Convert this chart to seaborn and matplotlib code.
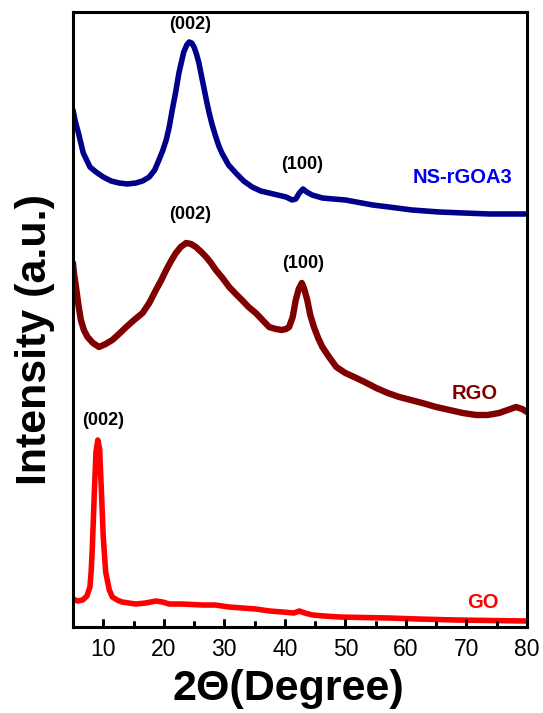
import numpy as np
import pandas as pd
import seaborn as sns
import matplotlib
matplotlib.use("Agg")
import matplotlib.pyplot as plt
from matplotlib.ticker import FixedLocator

# ---- data (intensity in arbitrary units) ----
ns_x = [5.0, 5.4, 5.9, 6.7, 7.8, 8.8, 10.0, 11.3, 12.6, 14.0, 15.4, 16.5, 17.6, 18.5,
        19.2, 19.8, 20.4, 20.9, 21.4, 22.0, 22.5, 23.3, 23.8, 24.2, 24.6, 25.0, 25.4,
        25.8, 26.2, 26.7, 27.1, 27.5, 28.0, 28.6, 29.1, 29.6, 30.7, 31.9, 33.2, 34.6,
        36.0, 37.4, 38.8, 40.2, 41.2, 41.8, 42.4, 43.0, 43.6, 44.5, 46.2, 48.0, 50.0,
        51.8, 54.5, 57.2, 61.0, 65.5, 69.5, 73.8, 77.0, 80.0]
ns_y = [517, 505, 494, 474, 460, 455, 450, 446, 444, 443, 444, 446, 450, 457,
        467, 476, 487, 500, 517, 536, 554, 575, 582, 585, 584, 580, 573,
        564, 552, 537, 525, 514, 502, 490, 481, 474, 462, 454, 446, 440,
        436, 434, 432, 430, 427, 428, 434, 438, 435, 432, 429, 428, 427,
        425, 422, 420, 417, 415, 414, 413, 413, 413]

rgo_x = [5.0, 5.2, 5.5, 5.9, 6.3, 6.8, 7.4, 8.3, 9.3, 10.4, 11.5, 12.6, 13.8, 15.1,
         16.5, 17.6, 18.7, 19.6, 20.4, 21.2, 22.0, 22.8, 23.7, 24.5, 25.3, 26.2,
         27.0, 27.8, 28.6, 29.7, 30.8, 31.9, 32.9, 34.0, 35.2, 36.3, 37.4, 38.5,
         39.5, 40.2, 40.7, 41.3, 41.8, 42.3, 42.8, 43.2, 43.7, 44.2, 44.8, 45.5,
         46.2, 47.3, 48.5, 50.0, 51.8, 53.5, 55.1, 57.0, 58.9, 60.8, 62.7, 65.0,
         67.2, 69.4, 71.6, 73.5, 75.4, 76.8, 78.2, 79.2, 80.0]
rgo_y = [364, 352, 340, 322, 307, 297, 290, 284, 280, 283, 287, 293, 300, 307,
         314, 324, 337, 347, 357, 366, 374, 380, 384, 383, 380, 375,
         370, 364, 357, 349, 340, 333, 327, 320, 314, 307, 300, 298,
         297, 298, 300, 310, 327, 338, 344, 338, 327, 312, 300, 289,
         280, 270, 260, 254, 249, 244, 239, 234, 230, 227, 224, 220,
         217, 214, 212, 212, 214, 217, 220, 218, 215]

go_x = [5.0, 5.8, 6.6, 7.3, 7.8, 8.0, 8.2, 8.5, 8.8, 9.1, 9.4, 9.7, 10.0, 10.4, 11.0,
        11.5, 12.3, 13.1, 14.2, 15.4, 17.0, 18.7, 19.8, 20.9, 23.0, 26.4, 28.5, 30.8,
        33.0, 35.2, 37.5, 39.6, 41.5, 42.4, 43.3, 44.6, 46.5, 49.0, 53.0, 57.3, 62.0,
        68.3, 74.0, 80.0]
go_y = [28, 26, 27, 31, 40, 55, 80, 130, 175, 187, 178, 135, 90, 55, 37,
        30, 27, 25, 24, 23, 24, 26, 25, 23, 23, 22, 22, 20,
        19, 18, 16, 15, 14, 16, 14, 12, 11, 10, 9.5, 9, 8,
        7, 6.5, 6]

x_ticks = [10, 20, 30, 40, 50, 60, 70, 80]
x_minor = [15, 25, 35, 45, 55, 65, 75]

# ---- style ----
sns.set_style("ticks")
plt.rcParams.update({
    'font.family': ['Liberation Sans', 'DejaVu Sans'],
    'text.color': 'black',
    'axes.labelcolor': 'black',
    'axes.edgecolor': 'black',
    'axes.linewidth': 2.2,
    'xtick.color': 'black',
    'xtick.labelcolor': 'black',
    'xtick.direction': 'in',
    'xtick.bottom': True,
    'xtick.top': False,
    'xtick.major.size': 6,
    'xtick.major.width': 2,
    'xtick.minor.size': 4,
    'xtick.minor.width': 2,
    'xtick.labelsize': 16.5,
    'xtick.major.pad': 8,
})

fig = plt.figure(figsize=(5.43, 7.13), dpi=100)
ax = fig.add_axes([0.1344, 0.1206, 0.8361, 0.8626])

navy = "#00008B"
maroon = "#800000"
red = "#FF0000"

sns.lineplot(x=ns_x, y=ns_y, ax=ax, color=navy, linewidth=4.0, estimator=None)
sns.lineplot(x=rgo_x, y=rgo_y, ax=ax, color=maroon, linewidth=4.6, estimator=None)
sns.lineplot(x=go_x, y=go_y, ax=ax, color=red, linewidth=4.0, estimator=None)

ax.set_xlim(5, 80)
ax.set_ylim(0, 615)
ax.xaxis.set_major_locator(FixedLocator(x_ticks))
ax.xaxis.set_minor_locator(FixedLocator(x_minor))
ax.set_yticks([])

# inward tick marks drawn along the bottom spine (axes-fraction heights)
xt = ax.get_xaxis_transform()
ax.vlines(x_ticks, 0, 0.0135, transform=xt, colors='black', linewidth=2,
          zorder=6, clip_on=False)
ax.vlines(x_minor, 0, 0.009, transform=xt, colors='black', linewidth=2,
          zorder=6, clip_on=False)

ax.set_xlabel("2Θ(Degree)", fontsize=31, fontweight='bold', color='black')
ax.set_ylabel("Intensity (a.u.)", fontsize=31, fontweight='bold', color='black')
ax.xaxis.set_label_coords(0.474, -0.068)
ax.yaxis.set_label_coords(-0.04, 0.468)

lab = dict(fontsize=13, fontweight='bold', ha='center', va='center', color='black')
ax.text(24.3, 602, "(002)", **lab)
ax.text(42.9, 462, "(100)", **lab)
ax.text(24.3, 412, "(002)", **lab)
ax.text(43.1, 363, "(100)", **lab)
ax.text(9.9, 207, "(002)", **lab)

ax.text(69.3, 449, "NS-rGOA3", fontsize=14.5, fontweight='bold', color="#0000EE",
        ha='center', va='center')
ax.text(71.3, 233, "RGO", fontsize=14.5, fontweight='bold', color=maroon,
        ha='center', va='center')
ax.text(72.7, 25, "GO", fontsize=14.5, fontweight='bold', color=red,
        ha='center', va='center')

fig.savefig("out.png", dpi=100)
